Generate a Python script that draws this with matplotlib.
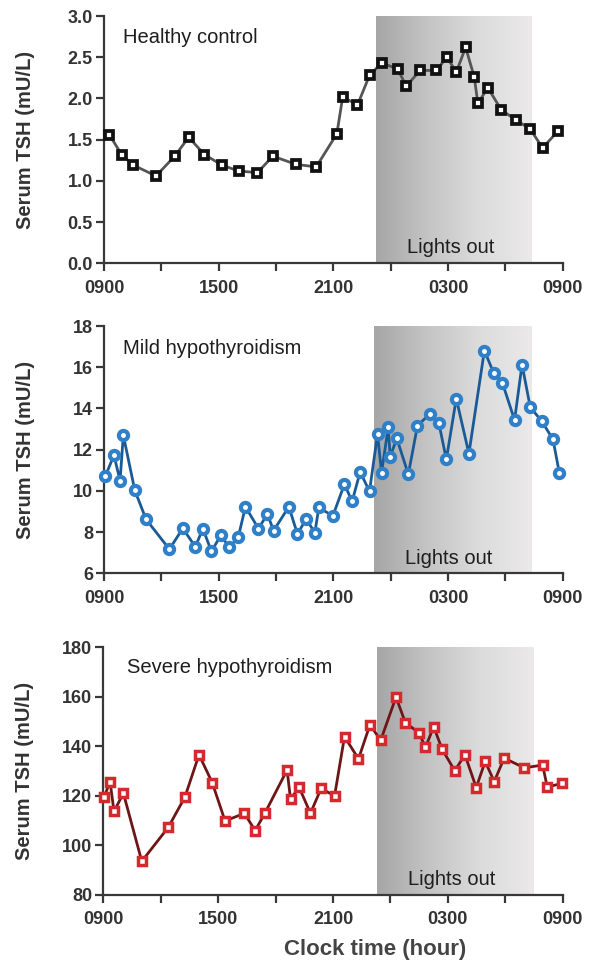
import numpy as np
import matplotlib
matplotlib.use("Agg")
import matplotlib.pyplot as plt
from matplotlib.colors import LinearSegmentedColormap

plt.rcParams['font.family'] = ['Liberation Sans', 'DejaVu Sans']

# Hours elapsed since 09:00 on day 1
hc_hours = [0.28, 0.92, 1.54, 2.72, 3.70, 4.43, 5.25, 6.18, 7.05, 8.03, 8.83,
            10.05, 11.10, 12.18, 12.49, 13.26, 13.89, 14.52, 15.36, 15.81,
            16.54, 17.38, 17.94, 18.43, 18.92, 19.37, 19.56, 20.08, 20.79,
            21.55, 22.29, 22.95, 23.73]
hc_tsh = [1.56, 1.32, 1.19, 1.06, 1.30, 1.53, 1.32, 1.19, 1.12, 1.10, 1.30,
          1.20, 1.17, 1.57, 2.02, 1.92, 2.28, 2.43, 2.36, 2.15, 2.34, 2.34,
          2.50, 2.32, 2.62, 2.26, 1.94, 2.13, 1.86, 1.74, 1.63, 1.40, 1.60]

mild_hours = [0.07, 0.52, 0.84, 1.01, 1.61, 2.20, 3.42, 4.12, 4.78, 5.17,
              5.62, 6.11, 6.56, 7.02, 7.40, 8.08, 8.55, 8.87, 9.67, 10.12,
              10.58, 11.03, 11.24, 11.97, 12.58, 12.98, 13.40, 13.89, 14.31,
              14.52, 14.87, 14.97, 15.32, 15.92, 16.40, 17.03, 17.52, 17.91,
              18.43, 19.09, 19.90, 20.38, 20.84, 21.48, 21.87, 22.30, 22.90,
              23.49, 23.82]
mild_tsh = [10.72, 11.73, 10.50, 12.70, 10.03, 8.62, 7.17, 8.18, 7.29, 8.17,
            7.07, 7.84, 7.26, 7.75, 9.23, 8.17, 8.88, 8.07, 9.23, 7.91, 8.64,
            7.97, 9.20, 8.78, 10.33, 9.49, 10.92, 9.98, 12.76, 10.88, 13.09,
            11.66, 12.55, 10.80, 13.17, 13.72, 13.28, 11.53, 14.48, 11.81,
            16.81, 15.74, 15.25, 13.44, 16.13, 14.06, 13.39, 12.50, 10.88]

severe_hours = [0.04, 0.35, 0.56, 1.05, 2.01, 3.39, 4.26, 5.00, 5.69, 6.36,
                7.37, 7.93, 8.45, 9.60, 9.78, 10.23, 10.82, 11.38, 12.08,
                12.60, 13.33, 13.93, 14.49, 15.29, 15.78, 16.48, 16.83, 17.26,
                17.70, 18.36, 18.89, 19.48, 19.95, 20.42, 20.94, 21.99, 22.95,
                23.19, 23.95]
severe_tsh = [119.4, 125.7, 113.7, 121.0, 93.5, 107.2, 119.4, 136.6, 125.3,
              109.8, 112.9, 105.9, 113.1, 130.4, 118.6, 123.4, 112.9, 123.0,
              119.9, 143.9, 134.9, 148.7, 142.4, 159.9, 149.5, 145.5, 139.6,
              147.9, 138.8, 130.1, 136.6, 123.3, 133.9, 125.7, 135.2, 131.3,
              132.4, 123.5, 125.0]

tick_hours = [0, 3, 6, 9, 12, 15, 18, 21, 24]
tick_labels = ['0900', '', '1500', '', '2100', '', '0300', '', '0900']

panels = [
    dict(title='Healthy control', x=hc_hours, y=hc_tsh,
         ylim=(0, 3.0), yticks=[0.0, 0.5, 1.0, 1.5, 2.0, 2.5, 3.0], yfmt='{:.1f}',
         lights=(14.25, 22.4), marker='s', ms=5.6, mew=2.7,
         mec='#111111', lc='#555555', rect=(0.1763, 0.7260, 0.7775, 0.2573),
         title_xy=(0.042, 0.915)),
    dict(title='Mild hypothyroidism', x=mild_hours, y=mild_tsh,
         ylim=(6, 18), yticks=[6, 8, 10, 12, 14, 16, 18], yfmt='{:d}',
         lights=(14.1, 22.35), marker='o', ms=6.6, mew=3.0,
         mec='#2f80c8', lc='#1a5a96', rect=(0.1763, 0.4034, 0.7775, 0.2573),
         title_xy=(0.042, 0.910)),
    dict(title='Severe hypothyroidism', x=severe_hours, y=severe_tsh,
         ylim=(80, 180), yticks=[80, 100, 120, 140, 160, 180], yfmt='{:d}',
         lights=(14.3, 22.45), marker='s', ms=6.0, mew=2.5,
         mec='#d42a2e', lc='#6e1518', rect=(0.1751, 0.0690, 0.7787, 0.2574),
         title_xy=(0.051, 0.919)),
]

shade_cmap = LinearSegmentedColormap.from_list(
    'lights', ['#a6a6a6', '#c4c4c4', '#dcdcdc', '#ebe9e9'])
grad = np.linspace(0, 1, 256).reshape(1, -1)

axis_col = '#383838'
fig = plt.figure(figsize=(5.9, 9.61), dpi=100)

for p in panels:
    ax = fig.add_axes(p['rect'])
    ax.set_xlim(0, 24)
    ax.set_ylim(*p['ylim'])

    x0, x1 = p['lights']
    ax.imshow(grad, cmap=shade_cmap, aspect='auto', zorder=0,
              extent=(x0, x1, p['ylim'][0], p['ylim'][1]))
    ax.text((x0 + x1) / 2 - 0.2, p['ylim'][0] + 0.062 * (p['ylim'][1] - p['ylim'][0]),
            'Lights out', ha='center', va='center', fontsize=14.5,
            color='#1e1e1e', zorder=3)

    ax.plot(p['x'], p['y'], color=p['lc'], lw=2.0, zorder=4, clip_on=False)
    ax.plot(p['x'], p['y'], linestyle='none', marker=p['marker'],
            ms=p['ms'], mew=p['mew'], mec=p['mec'], mfc='white', zorder=5,
            clip_on=False)

    ax.text(p['title_xy'][0], p['title_xy'][1], p['title'],
            transform=ax.transAxes, ha='left', va='center',
            fontsize=14.5, color='#1e1e1e', zorder=6)

    for side in ('top', 'right'):
        ax.spines[side].set_visible(False)
    for side in ('left', 'bottom'):
        ax.spines[side].set_color(axis_col)
        ax.spines[side].set_linewidth(1.6)

    ax.set_xticks(tick_hours)
    ax.set_xticklabels(tick_labels)
    ax.set_yticks(p['yticks'])
    ax.set_yticklabels([p['yfmt'].format(v) for v in p['yticks']])
    ax.tick_params(axis='both', direction='out', length=6, width=1.6,
                   color=axis_col, labelcolor='#333333', labelsize=13)
    ax.tick_params(axis='x', pad=6)
    ax.tick_params(axis='y', pad=2)
    for lab in ax.get_xticklabels() + ax.get_yticklabels():
        lab.set_fontweight('bold')

    ax.set_ylabel('Serum TSH (mU/L)', fontsize=14.5, fontweight='bold',
                  color='#333333')
    ax.yaxis.set_label_coords(-0.150, 0.5)
    ax.set_facecolor('white')

fig.text(375 / 590, 1 - 949 / 961, 'Clock time (hour)', ha='center',
         va='center', fontsize=16, fontweight='bold', color='#444444')

fig.savefig('out.png', dpi=100, facecolor='white')
